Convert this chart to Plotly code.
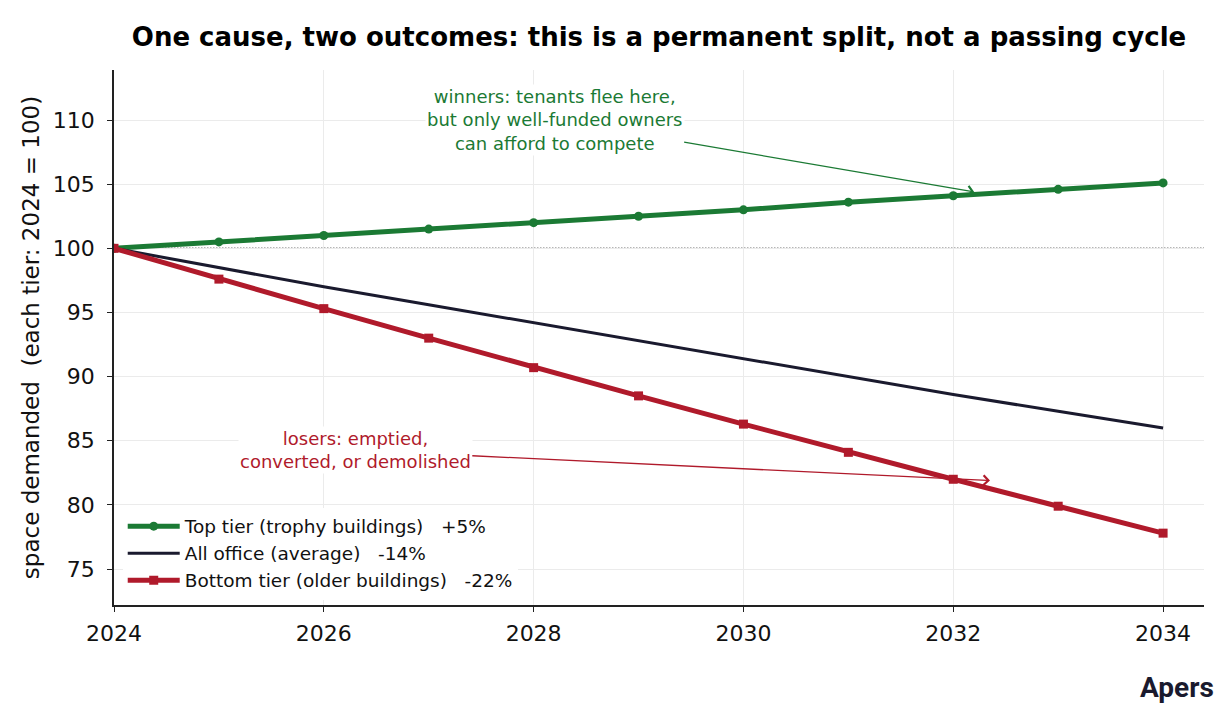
import plotly.graph_objects as go

# ---------------- data ----------------
years = [2024, 2025, 2026, 2027, 2028, 2029, 2030, 2031, 2032, 2033, 2034]
top_tier = [100, 100.5, 101.0, 101.5, 102.0, 102.5, 103.0, 103.6, 104.1, 104.6, 105.1]
all_office = [100, 98.5, 97.0, 95.6, 94.2, 92.8, 91.4, 90.0, 88.6, 87.3, 86.0]
bottom_tier = [100, 97.6, 95.3, 93.0, 90.7, 88.5, 86.3, 84.1, 82.0, 79.9, 77.8]

x_ticks = [2024, 2026, 2028, 2030, 2032, 2034]
y_ticks = [75, 80, 85, 90, 95, 100, 105, 110]

GREEN = "#1b7a34"
NAVY = "#1a1a2e"
RED = "#b01a2b"
FONT = "DejaVu Sans"
NB = "\u00a0"

# page body has an 8px margin, so the figure is drawn 8px smaller
W, H = 1222, 712

fig = go.Figure()

fig.add_hline(y=100, line=dict(color="#6e6e6e", width=1.5, dash="1.5px,1.5px"), layer="below")

fig.add_scatter(x=years, y=top_tier, mode="lines+markers",
                name="Top tier (trophy buildings)" + NB * 3 + "+5%",
                line=dict(color=GREEN, width=5), marker=dict(symbol="circle", size=9, color=GREEN))
fig.add_scatter(x=years, y=all_office, mode="lines",
                name="All office (average)" + NB * 3 + "-14%",
                line=dict(color=NAVY, width=3))
fig.add_scatter(x=years, y=bottom_tier, mode="lines+markers",
                name="Bottom tier (older buildings)" + NB * 3 + "-22%",
                line=dict(color=RED, width=5), marker=dict(symbol="square", size=9, color=RED))

# annotations with arrows
fig.add_annotation(x=2032.2, y=104.4, ax=2028.2, ay=110.0, axref="x", ayref="y",
                   text="winners: tenants flee here,<br>but only well-funded owners<br>can afford to compete",
                   font=dict(family=FONT, size=18, color=GREEN), bgcolor="white",
                   showarrow=True, arrowhead=4, arrowsize=1.5, arrowwidth=1.3, arrowcolor=GREEN)
fig.add_annotation(x=2032.35, y=81.9, ax=2026.3, ay=84.27, axref="x", ayref="y",
                   text="losers: emptied,<br>converted, or demolished",
                   font=dict(family=FONT, size=18, color=RED), bgcolor="white",
                   showarrow=True, arrowhead=4, arrowsize=1.5, arrowwidth=1.3, arrowcolor=RED)

# brand mark
fig.add_annotation(xref="paper", yref="paper", x=1.011, y=-0.155, xanchor="right", yanchor="middle",
                   text="<b>Apers</b>", showarrow=False,
                   font=dict(family="Roboto", size=28, color=NAVY))

fig.update_layout(
    width=W, height=H,
    margin=dict(l=106, r=26, t=62, b=115),
    paper_bgcolor="white", plot_bgcolor="white",
    font=dict(family=FONT, size=22, color="#111111"),
    title=dict(text="<b>One cause, two outcomes: this is a permanent split, not a passing cycle</b>",
               x=0.5, xref="paper", xanchor="center", y=1 - 29 / H, yref="container", yanchor="middle",
               font=dict(family=FONT, size=26, color="black")),
    xaxis=dict(range=[2024, 2034.39], tickvals=x_ticks, showgrid=True, gridcolor="#ebebeb", gridwidth=1,
               showline=True, linecolor="#222222", linewidth=1.5, mirror=False,
               ticks="outside", ticklen=5, tickwidth=1.3, tickcolor="#222222",
               ticklabelstandoff=3, zeroline=False),
    yaxis=dict(range=[72.2, 113.9], tickvals=y_ticks, showgrid=True, gridcolor="#ebebeb", gridwidth=1,
               showline=True, linecolor="#222222", linewidth=1.5, mirror=False,
               ticks="outside", ticklen=5, tickwidth=1.3, tickcolor="#222222",
               ticklabelstandoff=8, zeroline=False,
               title=dict(text="space demanded" + NB * 2 + "(each tier: 2024 = 100)", standoff=7,
                          font=dict(family=FONT, size=23))),
    legend=dict(x=0.008, y=0.01, xanchor="left", yanchor="bottom", bgcolor="white", borderwidth=0,
                font=dict(family=FONT, size=18.5, color="#111111"), tracegroupgap=0, itemwidth=52),
    showlegend=True,
)

fig.write_html("out.html")
